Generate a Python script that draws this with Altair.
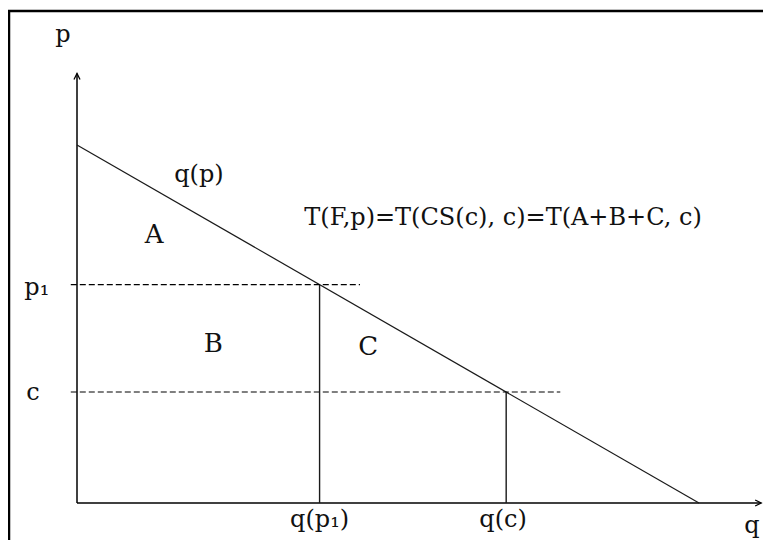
import altair as alt
import pandas as pd

# ---- data (economic units) ----
demand_q = [0.0, 10.0]
demand_p = [10.0, 0.0]
p1 = 6.1
c = 3.1
q_p1 = 3.9
q_c = 6.9
p_axis_top = 12.0
q_axis_end = 11.0
p1_dash = [-0.1, 4.55]
c_dash = [-0.1, 7.77]

label_text = ["p", "p\u2081", "c", "q(p\u2081)", "q(c)", "q", "q(p)",
              "T(F,p)=T(CS(c), c)=T(A+B+C, c)"]
label_q = [-0.225, -0.646, -0.707, 3.9, 6.85, 10.85, 1.96, 6.85]
label_p = [12.88, 5.81, 2.88, -0.67, -0.67, -0.84, 8.97, 7.77]

area_text = ["A", "B", "C"]
area_q = [1.24, 2.19, 4.68]
area_p = [7.26, 4.22, 4.13]

# ---- layout ----
W, H = 755, 532
X0, XS = 69.0, 62.2
Y0, YS = 495.0, 35.8
xs = alt.Scale(domain=[-X0 / XS, (W - X0) / XS], nice=False, zero=False)
ys = alt.Scale(domain=[(Y0 - H) / YS, Y0 / YS], nice=False, zero=False)
FONT = "DejaVu Serif"

one = pd.DataFrame({"a": [0]})
X = lambda f: alt.X(f, scale=xs, axis=None)
Y = lambda f: alt.Y(f, scale=ys, axis=None)

demand = alt.Chart(pd.DataFrame({"q": demand_q, "p": demand_p})).mark_line(
    color="#1a1a1a", strokeWidth=1.2
).encode(x=X("q:Q"), y=Y("p:Q"))

axes_df = pd.DataFrame({"q": [0, 0], "q2": [0, q_axis_end], "p": [0, 0], "p2": [p_axis_top, 0]})
axes = alt.Chart(axes_df).mark_rule(color="black", strokeWidth=1.5).encode(
    x=X("q:Q"), x2="q2:Q", y=Y("p:Q"), y2="p2:Q")

arrow_up = alt.Chart(pd.DataFrame({"q": [0], "p": [p_axis_top]})).mark_point(
    shape="M-0.45,0.9L0,0L0.45,0.9", filled=False, color="black", strokeWidth=1.3, size=180, opacity=1
).encode(x=X("q:Q"), y=Y("p:Q"))
arrow_right = alt.Chart(pd.DataFrame({"q": [q_axis_end], "p": [0]})).mark_point(
    shape="M-0.9,-0.45L0,0L-0.9,0.45", filled=False, color="black", strokeWidth=1.3, size=180, opacity=1
).encode(x=X("q:Q"), y=Y("p:Q"))

dash_df = pd.DataFrame({"q": [p1_dash[0], c_dash[0]], "q2": [p1_dash[1], c_dash[1]], "p": [p1, c]})
dashes = alt.Chart(dash_df).mark_rule(color="black", strokeWidth=1.2, strokeDash=[6, 3]).encode(
    x=X("q:Q"), x2="q2:Q", y=Y("p:Q"))

vert_df = pd.DataFrame({"q": [q_p1, q_c], "p": [0, 0], "p2": [p1, c]})
verts = alt.Chart(vert_df).mark_rule(color="#1a1a1a", strokeWidth=1.4).encode(
    x=X("q:Q"), y=Y("p:Q"), y2="p2:Q")

labels = alt.Chart(pd.DataFrame({"t": label_text, "q": label_q, "p": label_p})).mark_text(
    font=FONT, fontSize=24, align="center", baseline="alphabetic", color="#111"
).encode(x=X("q:Q"), y=Y("p:Q"), text="t:N")

area_labels = alt.Chart(pd.DataFrame({"t": area_text, "q": area_q, "p": area_p})).mark_text(
    font=FONT, fontSize=26, align="center", baseline="alphabetic", color="#111"
).encode(x=X("q:Q"), y=Y("p:Q"), text="t:N")

frame_left = alt.Chart(one).mark_rule(color="black", strokeWidth=2.5).encode(
    x=alt.value(1), y=alt.value(2), y2=alt.value(H))
frame_top = alt.Chart(one).mark_rule(color="black", strokeWidth=2.5).encode(
    x=alt.value(0), x2=alt.value(W), y=alt.value(3))

chart = alt.layer(frame_left, frame_top, axes, arrow_up, arrow_right, demand, dashes, verts,
                  labels, area_labels).properties(
    width=W, height=H, padding=0, autosize=alt.AutoSizeParams(type="none"), background="white"
).configure_view(stroke=None)

chart.save("out.html", embed_options={"renderer": "svg", "actions": False})
